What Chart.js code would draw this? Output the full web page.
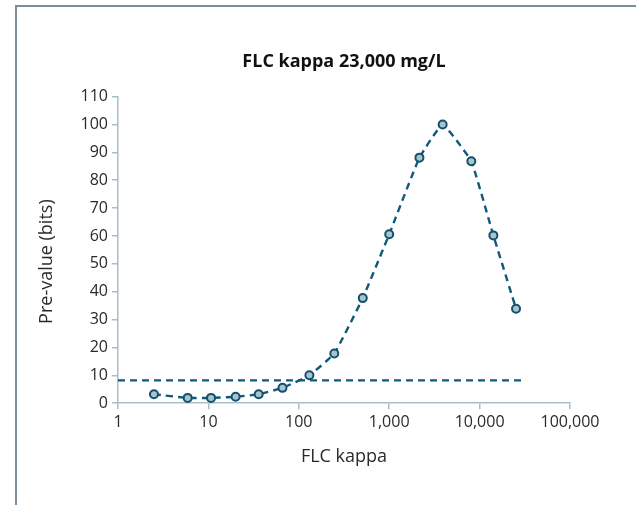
<!DOCTYPE html>
<html>
<head>
<meta charset="utf-8">
<script src="https://cdn.jsdelivr.net/npm/chart.js@4/dist/chart.umd.min.js"></script>
<style>
  html, body { margin: 0; padding: 0; background: #fff; }
  #wrap { position: relative; width: 636px; height: 505px; }
  #frame {
    position: absolute; left: 15px; top: 5px; right: 0; bottom: 0;
    border-left: 2px solid #7d8e98; border-top: 2px solid #7d8e98;
  }
  canvas { position: absolute; left: 0; top: 0; }
</style>
</head>
<body>
<div id="wrap">
  <div id="frame"></div>
  <canvas id="chart" width="636" height="505"></canvas>
</div>
<script>
// FLC kappa curve
const kappa = [2.5, 5.9, 10.7, 20, 36, 66, 131, 247, 510, 1000, 2160, 3900, 8100, 14200, 25300];
const preValue = [3.2, 1.9, 1.9, 2.3, 3.2, 5.5, 10.0, 17.8, 37.7, 60.6, 88.1, 100, 86.8, 60.2, 33.9];

// threshold line
const cutoffX = [1, 28800];
const cutoffY = 8.2;

const xTicks = [1, 10, 100, 1000, 10000, 100000];
const yMax = 110;
const yStep = 10;

const darkTeal = '#10597a';
const axisColor = '#a7bfcc';
const font = "'Open Sans', 'Noto Sans', sans-serif";

const data = {
  datasets: [
    {
      label: 'Pre-value',
      data: kappa.map((k, i) => ({x: k, y: preValue[i]})),
      borderColor: darkTeal,
      borderWidth: 2.4,
      borderDash: [7, 5],
      tension: 0.1,
      pointRadius: 4,
      pointBorderWidth: 2,
      pointBorderColor: '#13506b',
      pointBackgroundColor: '#a9c3cd',
      order: 1
    },
    {
      label: 'Cut-off',
      data: cutoffX.map(x => ({x: x, y: cutoffY})),
      borderColor: darkTeal,
      borderWidth: 2.4,
      borderDash: [7, 5],
      pointRadius: 0,
      order: 2
    }
  ]
};

const config = {
  type: 'line',
  data: data,
  options: {
    responsive: false,
    animation: false,
    layout: {
      padding: {left: 30, right: 66, top: 0, bottom: 37}
    },
    plugins: {
      legend: {display: false},
      tooltip: {enabled: false},
      title: {
        display: true,
        fullSize: false,
        text: 'FLC kappa 23,000 mg/L',
        color: '#111',
        font: {family: font, size: 18, weight: 'bold'},
        padding: {top: 51, bottom: 24}
      }
    },
    scales: {
      x: {
        type: 'logarithmic',
        min: 1,
        max: 100000,
        afterBuildTicks: scale => {
          scale.ticks = xTicks.map(v => ({value: v}));
        },
        ticks: {
          color: '#2a2a2a',
          font: {family: font, size: 16},
          padding: 4,
          maxRotation: 0,
          autoSkip: false,
          callback: v => Number(v).toLocaleString('en-US')
        },
        grid: {
          drawOnChartArea: false,
          drawTicks: true,
          tickLength: 6,
          color: axisColor,
          lineWidth: 1.5
        },
        border: {display: true, color: axisColor, width: 1.5},
        title: {
          display: true,
          text: 'FLC kappa',
          color: '#2a2a2a',
          font: {family: font, size: 18},
          padding: {top: 10, bottom: 0}
        }
      },
      y: {
        min: 0,
        max: yMax,
        afterFit: scale => { scale.width = 88; },
        ticks: {
          stepSize: yStep,
          color: '#2a2a2a',
          font: {family: font, size: 16},
          padding: 4
        },
        grid: {
          drawOnChartArea: false,
          drawTicks: true,
          tickLength: 6,
          color: axisColor,
          lineWidth: 1.5
        },
        border: {display: true, color: axisColor, width: 1.5},
        title: {
          display: true,
          text: 'Pre-value (bits)\u00a0\u00a0\u00a0\u00a0\u00a0',
          color: '#2a2a2a',
          font: {family: font, size: 18},
          padding: {top: 6, bottom: 0}
        }
      }
    }
  }
};

const myChart = new Chart(document.getElementById('chart'), config);
</script>
</body>
</html>
